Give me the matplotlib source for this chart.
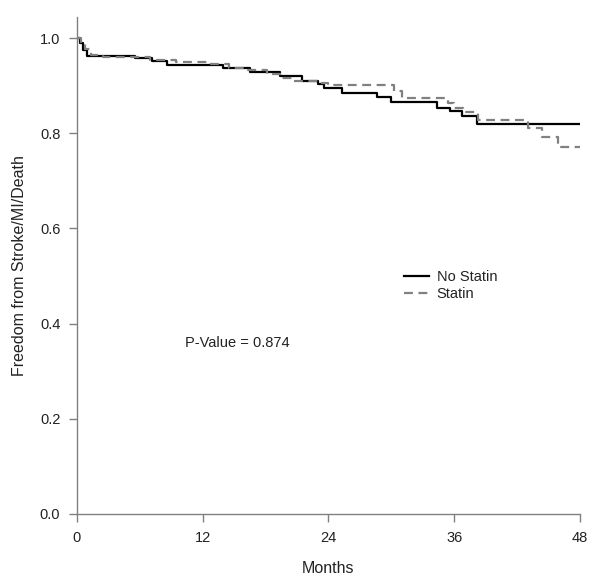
import matplotlib
matplotlib.use("Agg")
import matplotlib.pyplot as plt

plt.rcParams['font.family'] = ['Liberation Sans', 'DejaVu Sans']

# Kaplan-Meier step points (months, survival)
nostatin_t = [0, 0.3, 0.6, 1.0, 5.5, 7.2, 8.6, 13.9, 16.5, 19.4, 21.5, 23.0, 23.6,
              25.3, 28.6, 30.0, 34.4, 35.6, 36.7, 38.2, 48]
nostatin_s = [1.0, 0.99, 0.975, 0.962, 0.958, 0.952, 0.943, 0.937, 0.928, 0.92, 0.91,
              0.903, 0.895, 0.884, 0.876, 0.866, 0.853, 0.846, 0.836, 0.82, 0.82]

statin_t = [0, 0.4, 0.8, 1.3, 2.5, 7.0, 9.5, 12.8, 14.5, 16.0, 18.1, 19.5, 20.6,
            23.0, 24.0, 30.3, 31.0, 35.4, 36.0, 36.8, 38.3, 43.0, 44.4, 45.9, 48]
statin_s = [1.0, 0.99, 0.978, 0.965, 0.96, 0.955, 0.95, 0.945, 0.938, 0.932, 0.924,
            0.916, 0.91, 0.906, 0.902, 0.888, 0.874, 0.864, 0.854, 0.845, 0.828,
            0.811, 0.792, 0.771, 0.771]

xticks = [0, 12, 24, 36, 48]
yticks = [0.0, 0.2, 0.4, 0.6, 0.8, 1.0]

fig = plt.figure(figsize=(6.01, 5.83), dpi=100)
ax = fig.add_axes([0.128, 0.1184, 0.837, 0.853])

ax.step(nostatin_t, nostatin_s, where='post', color='black', lw=1.6, label='No Statin')
ax.step(statin_t, statin_s, where='post', color='#808080', lw=1.6,
        linestyle=(0, (4, 2.5)), label='Statin')

ax.set_xlim(0, 48)
ax.set_ylim(0, 1.045)
ax.set_xticks(xticks)
ax.set_xticklabels([str(v) for v in xticks])
ax.set_yticks(yticks)
ax.set_yticklabels(['%.1f' % v for v in yticks])

for s in ['top', 'right']:
    ax.spines[s].set_visible(False)
for s in ['left', 'bottom']:
    ax.spines[s].set_color('#808080')
    ax.spines[s].set_linewidth(1.0)
ax.tick_params(direction='out', length=6, width=1.0, color='#808080',
               labelsize=10.5, labelcolor='#222222', pad=6)

ax.set_xlabel('Months', fontsize=11.5, color='#222222', labelpad=12)
ax.set_ylabel('Freedom from Stroke/MI/Death', fontsize=11.5, color='#222222', labelpad=9)

ax.text(10.3, 0.36, 'P-Value = 0.874', fontsize=10.5, color='#222222', va='center')

ax.legend(loc='upper left', bbox_to_anchor=(0.625, 0.517), frameon=False,
          fontsize=10.5, handlelength=1.7, handletextpad=0.5, labelspacing=0.2,
          labelcolor='#222222')

fig.savefig('out.png', dpi=100)
